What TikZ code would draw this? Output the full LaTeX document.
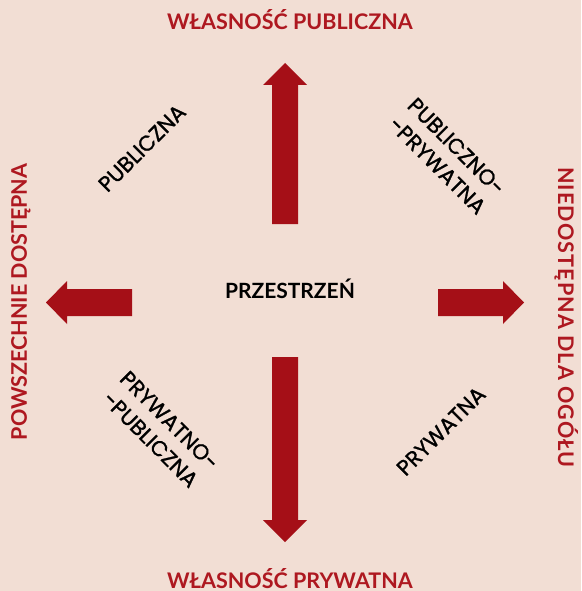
\documentclass[tikz,border=0pt]{standalone}
\usepackage{fontspec}
\setmainfont{Lato}
\newfontfamily\diagfont{Poppins}[FakeBold=1.2]
\definecolor{paper}{HTML}{F2DED4}
\definecolor{arrowred}{HTML}{A50F17}
\definecolor{titlered}{HTML}{AE1820}
\tikzset{
  bigarrow/.style={fill=arrowred, draw=none},
  axislabel/.style={text=titlered, font=\bfseries\fontsize{21.5}{24}\selectfont, inner sep=0pt, anchor=base},
  centrelabel/.style={text=black, font=\bfseries\fontsize{21}{23}\selectfont, inner sep=0pt, anchor=base},
  kindlabel/.style={text=black, font=\diagfont\fontsize{21.5}{27}\selectfont, align=center, inner sep=0pt}
}
\begin{document}
\begin{tikzpicture}[x=1pt,y=-1pt]
  % page and background
  \fill[paper] (0,0) rectangle (581,591);
  \useasboundingbox (0,0) rectangle (581,591);

  % four block arrows around the centre
  \fill[bigarrow] (272,224) -- (272,85) -- (263,85) -- (285,63) -- (307,85) -- (298,85) -- (298,224) -- cycle;
  \fill[bigarrow] (272,357) -- (298,357) -- (298,520) -- (307,520) -- (285,542) -- (263,520) -- (272,520) -- cycle;
  \fill[bigarrow] (132,289) -- (67,289) -- (67,281) -- (46,302.5) -- (67,324) -- (67,316) -- (132,316) -- cycle;
  \fill[bigarrow] (438,289) -- (503,289) -- (503,281) -- (524,302.5) -- (503,324) -- (503,316) -- (438,316) -- cycle;

  % centre
  \node[centrelabel] (centre) at (290,298.5) {PRZESTRZEŃ};

  % axis labels
  \node[axislabel] (top) at (290,30) {WŁASNOŚĆ PUBLICZNA};
  \node[axislabel] (bottom) at (290,588.5) {WŁASNOŚĆ PRYWATNA};
  \node[axislabel, rotate=90] (left) at (27,302) {POWSZECHNIE DOSTĘPNA};
  \node[axislabel, rotate=-90] (right) at (558,317.5) {\addfontfeatures{LetterSpace=5}NIEDOSTĘPNA DLA OGÓŁU};

  % kinds of space in the quadrants
  \node[kindlabel, rotate=45] (q1) at (142,148) {PUBLICZNA};
  \node[kindlabel, rotate=-45] (q2) at (447,156) {PUBLICZNO-\\-PRYWATNA};
  \node[kindlabel, rotate=-45] (q3) at (160,430) {PRYWATNO-\\-PUBLICZNA};
  \node[kindlabel, rotate=45] (q4) at (441,431) {PRYWATNA};
\end{tikzpicture}
\end{document}
